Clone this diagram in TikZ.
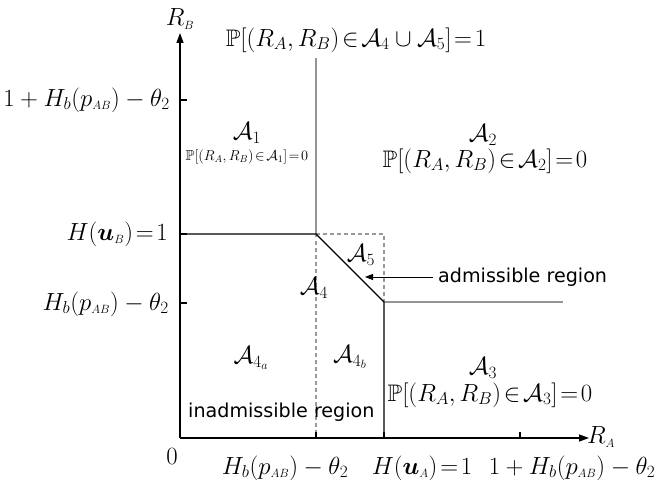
\documentclass[tikz,border=0pt]{standalone}
\usepackage{amsmath,amssymb,bm}
\usepackage{fontspec}
\newfontfamily\lblfont{DejaVu Sans}
\usetikzlibrary{arrows.meta}
\newcommand{\ssb}[1]{{\scriptscriptstyle #1}}
\begin{document}
\begin{tikzpicture}[x=1bp,y=-1bp,
  axisline/.style={line width=1.3bp,-{Triangle[length=10bp,width=7bp]}},
  blk/.style={line width=1.1bp},
  gry/.style={line width=2bp,draw=black!42},
  dsh/.style={line width=1.5bp,draw=black!40,dash pattern=on 3.5bp off 3.5bp},
  tick/.style={line width=1.5bp},
  mt/.style={font=\fontsize{24}{28}\selectfont,inner sep=0pt},
  smt/.style={font=\fontsize{14.5}{17}\selectfont,inner sep=0pt},
  sft/.style={font=\fontsize{19.2}{22}\selectfont\lblfont,inner sep=0pt}]
\useasboundingbox (0,0) rectangle (656,487);
% key points
\coordinate (O) at (180,438);
\coordinate (Xend) at (589,438);
\coordinate (Yend) at (180,33);
\coordinate (P) at (316,234);
\coordinate (Q) at (384,302);
\coordinate (Ptop) at (316,58);
\coordinate (Qright) at (563,302);
\coordinate (Qbot) at (384,438);
\coordinate (Pbot) at (316,438);
\coordinate (PQ) at (384,234);
\coordinate (YP) at (180,234);
% dashed region boundaries
\draw[dsh] (P) -- (Pbot);
\draw[dsh] (P) -- (PQ) -- (Q);
% solid boundaries
\draw[gry] (Ptop) -- (P);
\draw[gry] (Q) -- (Qright);
\draw[blk] (YP) -- (P) -- (Q) -- (Qbot);
% axes
\draw[axisline] (O) -- (Xend);
\draw[axisline] (O) -- (Yend);
% ticks
\coordinate (tx1) at (316,438); \coordinate (tx1e) at (316,432);
\coordinate (tx2) at (384,438); \coordinate (tx2e) at (384,432);
\coordinate (tx3) at (520,438); \coordinate (tx3e) at (520,432);
\coordinate (ty1) at (180,100); \coordinate (ty1e) at (187,100);
\coordinate (ty2) at (180,234); \coordinate (ty2e) at (187,234);
\coordinate (ty3) at (180,303); \coordinate (ty3e) at (187,303);
\draw[tick] (tx1) -- (tx1e) (tx2) -- (tx2e) (tx3) -- (tx3e)
            (ty1) -- (ty1e) (ty2) -- (ty2e) (ty3) -- (ty3e);
% axis labels
\node[mt] (RB) at (180,19) {$R_{\ssb{B}}$};
\node[mt,anchor=west] (RA) at (587,437) {$R_{\ssb{A}}$};
\node[mt] (zero) at (172,457) {$0$};
% y tick labels
\node[mt,anchor=east] (ly1) at (170,100) {$1+H_b(p_{\ssb{AB}})-\theta_2$};
\node[mt,anchor=east] (ly2) at (168,234) {$H(\bm{u}_{\ssb{B}})\!=\!1$};
\node[mt,anchor=east] (ly3) at (169,304) {$H_b(p_{\ssb{AB}})-\theta_2$};
% x tick labels
\node[mt] (lx1) at (285,468) {$H_b(p_{\ssb{AB}})-\theta_2$};
\node[mt] (lx2) at (422,468) {$H(\bm{u}_{\ssb{A}})\!=\!1$};
\node[mt] (lx3) at (572,468) {$1+H_b(p_{\ssb{AB}})-\theta_2$};
% region labels
\node[mt] (top) at (356,40) {$\mathbb{P}[(R_A,R_B)\!\in\!\mathcal{A}_4\cup\mathcal{A}_5]\!=\!1$};
\node[mt] (A1) at (247,133) {$\mathcal{A}_1$};
\node[smt] (P1) at (247,157) {$\mathbb{P}[(R_A,R_B)\!\in\!\mathcal{A}_1]\!=\!0$};
\node[mt] (A2) at (483,135) {$\mathcal{A}_2$};
\node[mt] (P2) at (485,161) {$\mathbb{P}[(R_A,R_B)\!\in\!\mathcal{A}_2]\!=\!0$};
\node[mt] (A5) at (361,255) {$\mathcal{A}_5$};
\node[mt] (A4) at (314,288) {$\mathcal{A}_4$};
\node[mt] (A4a) at (251,358) {$\mathcal{A}_{4_a}$};
\node[mt] (A4b) at (350,357) {$\mathcal{A}_{4_b}$};
\node[mt] (A3) at (483,368) {$\mathcal{A}_3$};
\node[mt] (P3) at (490,395) {$\mathbb{P}[(R_A,R_B)\!\in\!\mathcal{A}_3]\!=\!0$};
% text labels
\node[sft,anchor=west] (adm) at (438,277) {admissible region};
\node[sft,anchor=west] (inadm) at (188,412) {inadmissible region};
\coordinate (admtip) at (365,277);
\draw[line width=1bp,-{Triangle[length=8bp,width=6bp]}] ([xshift=-5bp]adm.west) -- (admtip);
\end{tikzpicture}
\end{document}
